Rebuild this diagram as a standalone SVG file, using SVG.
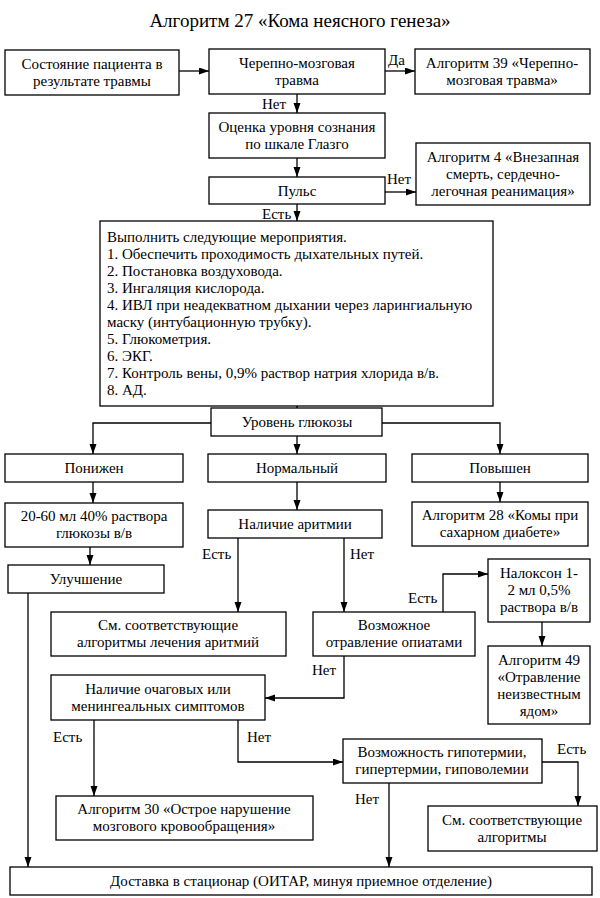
<svg xmlns="http://www.w3.org/2000/svg" width="600" height="898" viewBox="0 0 600 898">
<style>
rect{fill:#fff;stroke:#000;stroke-width:1.3}
text{font-family:"Liberation Serif","Times New Roman",serif;font-size:15px;fill:#000}
.c{text-anchor:middle}
.t{font-size:19px}
#connectors path{fill:none;stroke:#000;stroke-width:1.3;marker-end:url(#ah)}
</style>
<defs>
<marker id="ah" markerUnits="userSpaceOnUse" markerWidth="11" markerHeight="8" refX="10" refY="3.5" orient="auto">
<path d="M0,0 L10,3.5 L0,7 z" fill="#000"/>
</marker>
</defs>
<rect x="0" y="0" width="600" height="898" style="stroke:none"/>
<text class="c t" x="300" y="27">Алгоритм 27 «Кома неясного генеза»</text>

<g id="connectors">
<path d="M179,71 H209"/>
<path d="M385,71 H415"/>
<path d="M297,94 V113"/>
<path d="M297,158 V177"/>
<path d="M385,192 H416"/>
<path d="M297,204 V221"/>
<path d="M297,391 V408"/>
<path d="M211,423 H93 V454"/>
<path d="M297,436 V454"/>
<path d="M382,423 H500 V454"/>
<path d="M93,482 V503"/>
<path d="M90,547 V565"/>
<path d="M297,482 V510"/>
<path d="M500,482 V502"/>
<path d="M238,538 V612"/>
<path d="M344,538 V612"/>
<path d="M443,612 V574 H488"/>
<path d="M542,622 V646"/>
<path d="M344,656 V698 H265"/>
<path d="M94,720 V796"/>
<path d="M238,720 V762 H343"/>
<path d="M542,762 H578 V806"/>
<path d="M389,783 V867"/>
<path d="M28,593 V867"/>
<text x="388" y="65">Да</text>
<text x="262" y="109">Нет</text>
<text x="387" y="184">Нет</text>
<text x="262" y="219">Есть</text>
<text x="202" y="559">Есть</text>
<text x="350" y="559">Нет</text>
<text x="408" y="603">Есть</text>
<text x="312" y="675">Нет</text>
<text x="53" y="742">Есть</text>
<text x="247" y="742">Нет</text>
<text x="557" y="754">Есть</text>
<text x="355" y="804">Нет</text>
</g>

<g id="nA"><rect x="5" y="50" width="174" height="45"/><text class="c" x="92" y="69">Состояние пациента в</text><text class="c" x="92" y="86">результате травмы</text></g>
<g id="nB"><rect x="209" y="49" width="176" height="45"/><text class="c" x="297" y="68">Черепно-мозговая</text><text class="c" x="297" y="85">травма</text></g>
<g id="nC"><rect x="415" y="49" width="175" height="45"/><text class="c" x="502" y="68">Алгоритм 39 «Черепно-</text><text class="c" x="502" y="85">мозговая травма»</text></g>
<g id="nD"><rect x="209" y="113" width="176" height="45"/><text class="c" x="297" y="132">Оценка уровня сознания</text><text class="c" x="297" y="149">по шкале Глазго</text></g>
<g id="nE"><rect x="209" y="177" width="176" height="27"/><text class="c" x="297" y="196">Пульс</text></g>
<g id="nF"><rect x="416" y="143" width="174" height="62"/><text class="c" x="503" y="162">Алгоритм 4 «Внезапная</text><text class="c" x="503" y="179">смерть, сердечно-</text><text class="c" x="503" y="196">легочная реанимация»</text></g>
<g id="nG"><rect x="100" y="221" width="393" height="185"/>
<text x="107" y="242">Выполнить следующие мероприятия.</text>
<text x="107" y="259">1. Обеспечить проходимость дыхательных путей.</text>
<text x="107" y="276">2. Постановка воздуховода.</text>
<text x="107" y="293">3. Ингаляция кислорода.</text>
<text x="107" y="310">4. ИВЛ при неадекватном дыхании через ларингиальную</text>
<text x="107" y="327">маску (интубационную трубку).</text>
<text x="107" y="344">5. Глюкометрия.</text>
<text x="107" y="361">6. ЭКГ.</text>
<text x="107" y="378">7. Контроль вены, 0,9% раствор натрия хлорида в/в.</text>
<text x="107" y="395">8. АД.</text>
</g>
<g id="nH"><rect x="211" y="408" width="171" height="28"/><text class="c" x="297" y="427">Уровень глюкозы</text></g>
<g id="nI"><rect x="5" y="454" width="178" height="28"/><text class="c" x="94" y="473">Понижен</text></g>
<g id="nJ"><rect x="208" y="454" width="178" height="28"/><text class="c" x="297" y="473">Нормальный</text></g>
<g id="nK"><rect x="412" y="454" width="176" height="28"/><text class="c" x="500" y="473">Повышен</text></g>
<g id="nL"><rect x="5" y="503" width="178" height="44"/><text class="c" x="94" y="521">20-60 мл 40% раствора</text><text class="c" x="94" y="538">глюкозы в/в</text></g>
<g id="nM"><rect x="8" y="565" width="156" height="28"/><text class="c" x="86" y="584">Улучшение</text></g>
<g id="nN"><rect x="208" y="510" width="174" height="28"/><text class="c" x="295" y="529">Наличие аритмии</text></g>
<g id="nO"><rect x="412" y="502" width="176" height="44"/><text class="c" x="500" y="520">Алгоритм 28 «Комы при</text><text class="c" x="500" y="537">сахарном диабете»</text></g>
<g id="nP"><rect x="51" y="612" width="235" height="44"/><text class="c" x="168" y="630">См. соответствующие</text><text class="c" x="168" y="647">алгоритмы лечения аритмий</text></g>
<g id="nQ"><rect x="313" y="612" width="162" height="44"/><text class="c" x="394" y="630">Возможное</text><text class="c" x="394" y="647">отравление опиатами</text></g>
<g id="nR"><rect x="488" y="559" width="102" height="63"/><text class="c" x="539" y="578">Налоксон 1-</text><text class="c" x="539" y="595">2 мл 0,5%</text><text class="c" x="539" y="612">раствора в/в</text></g>
<g id="nS"><rect x="488" y="646" width="102" height="78"/><text class="c" x="539" y="665">Алгоритм 49</text><text class="c" x="539" y="682">«Отравление</text><text class="c" x="539" y="699">неизвестным</text><text class="c" x="539" y="716">ядом»</text></g>
<g id="nT"><rect x="51" y="675" width="214" height="45"/><text class="c" x="158" y="694">Наличие очаговых или</text><text class="c" x="158" y="711">менингеальных симптомов</text></g>
<g id="nU"><rect x="56" y="796" width="257" height="44"/><text class="c" x="184" y="814">Алгоритм 30 «Острое нарушение</text><text class="c" x="184" y="831">мозгового кровообращения»</text></g>
<g id="nV"><rect x="343" y="739" width="199" height="44"/><text class="c" x="442" y="757">Возможность гипотермии,</text><text class="c" x="442" y="774">гипертермии, гиповолемии</text></g>
<g id="nW"><rect x="428" y="806" width="169" height="45"/><text class="c" x="512" y="825">См. соответствующие</text><text class="c" x="512" y="842">алгоритмы</text></g>
<g id="nX"><rect x="10" y="867" width="582" height="28"/><text class="c" x="301" y="886">Доставка в стационар (ОИТАР, минуя приемное отделение)</text></g>
</svg>
